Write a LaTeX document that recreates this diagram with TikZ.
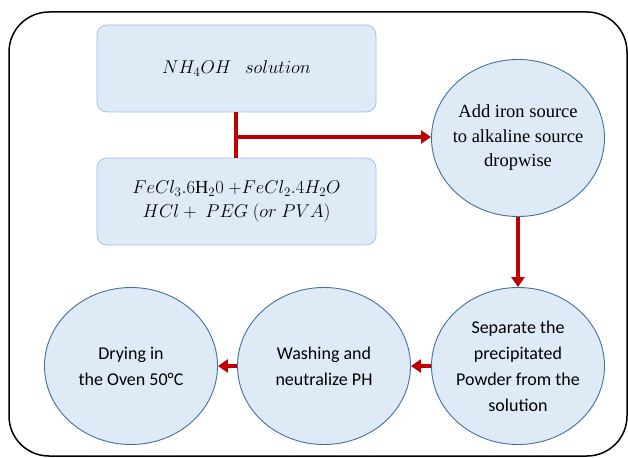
\RequirePackage{fix-cm}
\documentclass[tikz,border=0pt]{standalone}
\usepackage{fontspec}
\setmainfont{Liberation Serif}
\newfontfamily\timesf{Liberation Serif}
\newfontfamily\calibri{Carlito}
\usetikzlibrary{shapes.geometric,arrows.meta}
\definecolor{boxfill}{HTML}{DEEBF7}
\definecolor{boxline}{HTML}{9DC3E6}
\definecolor{circline}{HTML}{41719C}
\definecolor{arrred}{HTML}{C00000}
\tikzset{
  rbox/.style={draw=boxline, line width=0.8pt, fill=boxfill, rounded corners=10pt,
    minimum width=279pt, minimum height=87pt, inner sep=0pt, align=center,
    font=\fontsize{18.5}{27}\selectfont},
  circ/.style={ellipse, draw=circline, line width=0.9pt, fill=boxfill,
    minimum width=173pt, minimum height=157pt, inner sep=-12pt, align=center},
  serifc/.style={circ, font=\timesf\fontsize{18.5}{24.5}\selectfont},
  calc/.style={circ, font=\calibri\fontsize{18}{26}\selectfont},
  redline/.style={draw=arrred, line width=3.5pt},
  redarrow/.style={redline, -{Triangle[length=10pt,width=13pt]}},
}
\begin{document}
\begin{tikzpicture}[x=1pt,y=-1pt]
\useasboundingbox (0,0) rectangle (628,457);
\draw[line width=1.5pt, rounded corners=40pt] (9,12) rectangle (627,456);
\node[rbox] (nh) at (236.5,68.5) {$NH_4OH\ \ \ solution$};
\node[rbox] (fe) at (236.5,201.5) {$FeCl_3.6\mathrm{H}_20\ {+}FeCl_2.4H_2O$\\[-3pt]$HCl+\ PEG\ (or\ PVA)$};
\node[serifc] (add) at (518,138) {Add iron source\\to alkaline source\\dropwise};
\node[calc] (sep) at (518,366) {Separate the\\precipitated\\Powder from the\\solution};
\node[calc] (wash) at (324,366) {Washing and\\neutralize PH};
\node[calc] (dry) at (131,366) {Drying in\\the Oven 50°C};
\coordinate (jn) at (236,137);
\draw[redline] (nh.south -| jn) -- (fe.north -| jn);
\draw[redarrow] ([xshift=-1.75pt]jn) -- (add.west |- jn);
\draw[redarrow] (add.south) -- (sep.north);
\draw[redarrow] (sep.west) -- (wash.east);
\draw[redarrow] (wash.west) -- (dry.east);
\end{tikzpicture}
\end{document}
